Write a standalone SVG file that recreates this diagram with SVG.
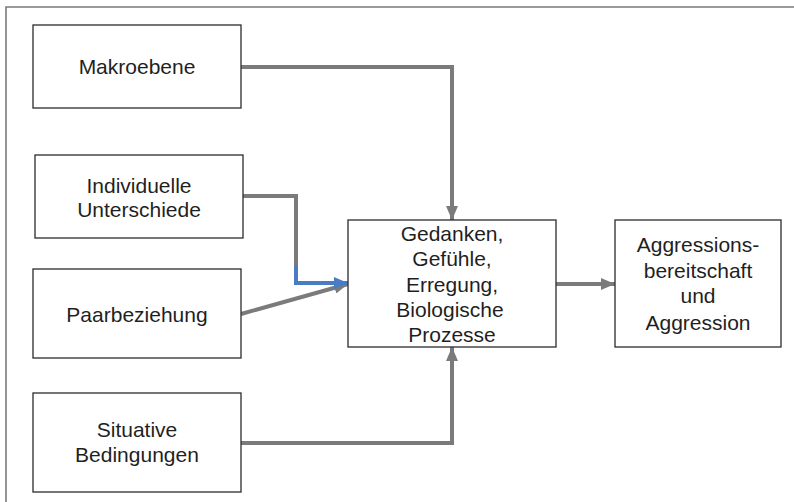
<svg xmlns="http://www.w3.org/2000/svg" width="794" height="502" viewBox="0 0 794 502">
<defs>
<marker id="ag" viewBox="0 0 14 12" refX="14" refY="6" markerWidth="14" markerHeight="12" markerUnits="userSpaceOnUse" orient="auto"><path d="M0,0 L14,6 L0,12 Z" fill="#7b7b7d"/></marker>
<marker id="ab" viewBox="0 0 14 12" refX="14" refY="6" markerWidth="14" markerHeight="12" markerUnits="userSpaceOnUse" orient="auto"><path d="M0,0 L14,6 L0,12 Z" fill="#4a7cc4"/></marker>
</defs>
<style>
.box{fill:#fff;stroke:#2b2b2b;stroke-width:1.3}
.t{font-family:"Liberation Sans",Arial,sans-serif;font-size:21px;fill:#1f1f1f;text-anchor:middle}
.c{fill:none;stroke:#7b7b7d;stroke-width:4;stroke-linejoin:miter}
.b{fill:none;stroke:#4a7cc4;stroke-width:4;stroke-linejoin:miter}
.frame{fill:none;stroke:#7a7a7a;stroke-width:1.6}
</style>
<rect width="794" height="502" fill="#fff"/>
<path class="frame" d="M6,502 L6,7 L794,7"/>
<g id="connectors">
<path class="c" d="M241,67 H452 V220" marker-end="url(#ag)"/>
<path class="c" d="M241,443 H452 V347" marker-end="url(#ag)"/>
<path class="c" d="M241,314 L348,284" marker-end="url(#ag)"/>
<path class="c" d="M243,196 H296 V266"/>
<path class="b" d="M296,265 V283 H348" marker-end="url(#ab)"/>
<path class="c" d="M556,284 H615" marker-end="url(#ag)"/>
</g>
<g id="makroebene">
<rect class="box" x="33" y="25" width="208" height="83"/>
<text class="t" x="137" y="74">Makroebene</text>
</g>
<g id="individuelle">
<rect class="box" x="35" y="155" width="208" height="83"/>
<text class="t" x="139" y="193">Individuelle</text>
<text class="t" x="139" y="217">Unterschiede</text>
</g>
<g id="paarbeziehung">
<rect class="box" x="33" y="269" width="208" height="89"/>
<text class="t" x="137" y="322">Paarbeziehung</text>
</g>
<g id="situative">
<rect class="box" x="33" y="393" width="208" height="99"/>
<text class="t" x="137" y="437">Situative</text>
<text class="t" x="137" y="462">Bedingungen</text>
</g>
<g id="gedanken">
<rect class="box" x="348" y="220" width="208" height="127"/>
<text class="t" x="452" y="241" fill="#000">Gedanken,</text>
<text class="t" x="452" y="266">Gefühle,</text>
<text class="t" x="452" y="292">Erregung,</text>
<text class="t" x="450" y="317">Biologische</text>
<text class="t" x="452" y="342" fill="#000">Prozesse</text>
</g>
<g id="aggression">
<rect class="box" x="615" y="220" width="166" height="127"/>
<text class="t" x="698" y="252">Aggressions-</text>
<text class="t" x="698" y="278">bereitschaft</text>
<text class="t" x="698" y="303">und</text>
<text class="t" x="698" y="330">Aggression</text>
</g>
</svg>
